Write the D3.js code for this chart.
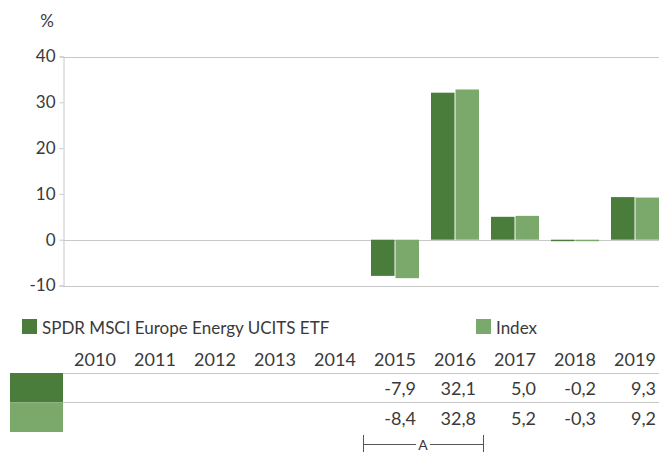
<!DOCTYPE html>
<html><head><meta charset="utf-8">
<script src="https://cdn.jsdelivr.net/npm/d3@7"></script>
<style>
html,body{margin:0;padding:0;background:#fff;}
svg text{font-family:Lato,"Open Sans",sans-serif;fill:#3a3a3a;}
</style></head>
<body><svg id="c" width="659" height="453"></svg>
<script>
const years = ["2010","2011","2012","2013","2014","2015","2016","2017","2018","2019"];
const seriesNames = ["SPDR MSCI Europe Energy UCITS ETF","Index"];
const fundValues = [null,null,null,null,null,-7.9,32.1,5.0,-0.2,9.3];
const indexValues = [null,null,null,null,null,-8.4,32.8,5.2,-0.3,9.2];
const yTicks = [-10,0,10,20,30,40];
const colors = ["#4a7c3b","#7aa96b"];
const bracketLabel = "A";
const bracketYears = ["2015","2016"];

const svg = d3.select("#c");
const fmt = v => v==null ? "" : v.toFixed(1).replace(".",",");

const x = d3.scaleBand().domain(years).range([65,665]).paddingInner(0.2).paddingOuter(0.1);
const x1 = d3.scaleBand().domain([0,1]).range([0,x.bandwidth()]).paddingInner(0.04);
const y = d3.scaleLinear().domain([-10,40]).range([285.5,56.5]);

// gridlines (top, zero, bottom)
svg.append("g").selectAll("line").data([40,0,-10]).join("line")
  .attr("x1",63).attr("x2",659).attr("y1",d=>Math.round(y(d))+0.5).attr("y2",d=>Math.round(y(d))+0.5)
  .attr("stroke","#c8c8c8").attr("stroke-width",1);

const yAxis = svg.append("g").attr("transform","translate(63.5,0)")
  .call(d3.axisLeft(y).tickValues(yTicks).tickSize(4).tickPadding(4).tickFormat(d=>String(d)));
yAxis.select(".domain").attr("stroke","#c8c8c8");
yAxis.selectAll(".tick line").attr("stroke","#c8c8c8");
yAxis.selectAll(".tick text").attr("font-size",17).attr("fill","#3a3a3a").attr("font-family","Lato");

svg.append("text").attr("x",47).attr("y",27).attr("text-anchor","middle").attr("font-size",17).text("%");

const series = [fundValues,indexValues];
series.forEach((vals,si)=>{
  svg.append("g").selectAll("rect").data(years.map((yr,i)=>({yr,v:vals[i]})).filter(d=>d.v!=null)).join("rect")
    .attr("x",d=>x(d.yr)+x1(si))
    .attr("width",x1.bandwidth())
    .attr("y",d=>y(Math.max(0,d.v)))
    .attr("height",d=>Math.max(1.5,Math.abs(y(d.v)-y(0))))
    .attr("fill",colors[si]);
});

// legend
const leg = [{x:22,name:seriesNames[0],c:colors[0]},{x:476,name:seriesNames[1],c:colors[1]}];
leg.forEach(l=>{
  svg.append("rect").attr("x",l.x).attr("y",319).attr("width",15).attr("height",15).attr("fill",l.c);
  svg.append("text").attr("x",l.x+20).attr("y",334).attr("font-size",17).text(l.name);
});

// table
const tbl = svg.append("g");
tbl.selectAll("text.yr").data(years).join("text").attr("class","yr")
  .attr("x",d=>x(d)+x.bandwidth()/2).attr("y",366).attr("text-anchor","middle").attr("font-size",18).text(d=>d);
[373,402].forEach(yy=>{
  tbl.append("line").attr("x1",63).attr("x2",659).attr("y1",yy+0.5).attr("y2",yy+0.5).attr("stroke","#c8c8c8");
});
series.forEach((vals,si)=>{
  tbl.append("rect").attr("x",10).attr("y",373+si*29.5).attr("width",53).attr("height",29.5).attr("fill",colors[si]);
  tbl.selectAll("text.v"+si).data(years.map((yr,i)=>({yr,v:vals[i]}))).join("text").attr("class","v"+si)
    .attr("x",d=>x(d.yr)+x.bandwidth()/2+21).attr("y",395+si*29.5).attr("text-anchor","end").attr("font-size",18).text(d=>fmt(d.v));
});

// bracket
const bx0 = x(bracketYears[0]) - 8, bx1 = x(bracketYears[1]) + x.bandwidth() + 4;
const br = svg.append("g").attr("stroke","#555").attr("stroke-width",1);
br.append("line").attr("x1",bx0+0.5).attr("x2",bx0+0.5).attr("y1",435).attr("y2",452);
br.append("line").attr("x1",bx1+0.5).attr("x2",bx1+0.5).attr("y1",435).attr("y2",452);
br.append("line").attr("x1",bx0).attr("x2",(bx0+bx1)/2-7).attr("y1",444.5).attr("y2",444.5);
br.append("line").attr("x1",(bx0+bx1)/2+7).attr("x2",bx1).attr("y1",444.5).attr("y2",444.5);
svg.append("text").attr("x",(bx0+bx1)/2).attr("y",449.5).attr("text-anchor","middle").attr("font-size",14).text(bracketLabel);
</script></body></html>
